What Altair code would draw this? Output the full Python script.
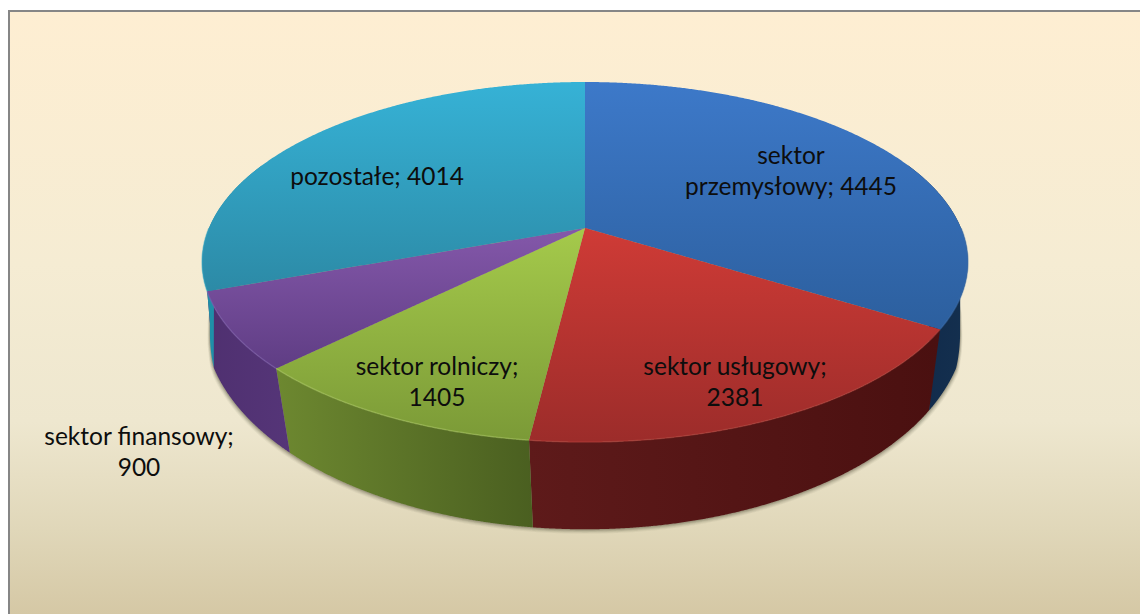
import numpy as np
import pandas as pd
import altair as alt

categories = ["sektor przemysłowy", "sektor usługowy", "sektor rolniczy", "sektor finansowy", "pozostałe"]
values = [4445, 2381, 1405, 900, 4014]
top_light = ["#3d79c9", "#cf3b36", "#a5ca4b", "#8458aa", "#36b2d6"]
top_dark = ["#2c5f9e", "#9c2c2a", "#7b9a37", "#5f3d84", "#2c8aa6"]
wall_left = ["#10294a", "#5e1a1a", "#6d8830", "#4f3070", "#1f8fa8"]
wall_right = ["#14304f", "#4a1010", "#4a5f20", "#553578", "#1f8fa8"]
rim = ["#3d6fae", "#b8413c", "#a9c95f", "#7f60b4", "#35a5c4"]
label_texts = ["sektor\nprzemysłowy; 4445", "sektor usługowy;\n2381", "sektor rolniczy;\n1405",
               "sektor finansowy;\n900", "pozostałe; 4014"]
label_x = [791, 735, 437, 139, 377]
label_y = [157, 368, 368, 438, 178]

W, H = 1140, 614
CX, CY = 585.0, 228.0


def top(th):
    u, v = np.sin(th), np.cos(th)
    d = 1 + 0.189 * v
    return CX + 376 * u / d, CY - 173.6 * v / d


def bottom(th):
    u, v = np.sin(th), np.cos(th)
    d = 1 + 0.125 * v
    pinch = 1 - 0.016 * np.clip((np.abs(u) - 0.94) / 0.05, 0, 1)
    return CX + 378 * u / d * pinch, 295 - 205 * v / d


def spans(px, py):
    """Vertical extent of a closed outline at a sweep of x positions."""
    lo, hi = px.min() + 1e-6, px.max() - 1e-6
    xs = np.unique(np.concatenate([np.linspace(lo, hi, 260), np.clip(px[::12], lo, hi)]))
    x0, y0 = px, py
    x1, y1 = np.roll(px, -1), np.roll(py, -1)
    rows = []
    for x in xs:
        hit = ((x0 <= x) & (x1 > x)) | ((x1 <= x) & (x0 > x))
        if not hit.any():
            continue
        ys = y0[hit] + (x - x0[hit]) / (x1[hit] - x0[hit]) * (y1[hit] - y0[hit])
        rows.append((x, ys.min(), ys.max()))
    return pd.DataFrame(rows, columns=["px", "py", "py2"])


X = alt.X("px:Q", scale=alt.Scale(domain=[8, W], nice=False, zero=False), axis=None)
Y = alt.Y("py:Q", scale=alt.Scale(domain=[H, 8], nice=False, zero=False), axis=None)


def grad(c0, c1, vertical=True):
    return alt.LinearGradient(
        gradient="linear",
        stops=[alt.GradientStop(color=c0, offset=0), alt.GradientStop(color=c1, offset=1)],
        x1=0, y1=0, x2=0 if vertical else 1, y2=1 if vertical else 0,
    )


def area(df, fill, opacity=1.0):
    return alt.Chart(df).mark_area(fill=fill, opacity=opacity, line=False, stroke=None).encode(
        x=X, y=Y, y2="py2:Q")


layers = []

# page background panel and frame
panel = pd.DataFrame({"px": [10], "px2": [W], "py": [12], "py2": [H]})
layers.append(
    alt.Chart(panel).mark_rect(
        fill=alt.LinearGradient(
            gradient="linear",
            stops=[alt.GradientStop(color=c, offset=o) for c, o in
                   [("#feeed2", 0), ("#f5ecd3", 0.42), ("#eee7cf", 0.68), ("#e0d7b9", 0.86), ("#d5c8a5", 1)]],
            x1=0, y1=0, x2=0, y2=1)
    ).encode(x=X, x2="px2:Q", y=Y, y2="py2:Q")
)
layers.append(alt.Chart(pd.DataFrame({"px": [9], "py": [11], "py2": [H]})).mark_rule(
    color="#868686", strokeWidth=2).encode(x=X, y=Y, y2="py2:Q"))
layers.append(alt.Chart(pd.DataFrame({"px": [8], "px2": [W], "py": [11]})).mark_rule(
    color="#868686", strokeWidth=2).encode(x=X, x2="px2:Q", y=Y))

ring = np.linspace(np.pi / 2 - 0.4, 3 * np.pi / 2 + 0.4, 500)

# soft shadow under the rim
bx, by = bottom(ring)
for off, op in [(5, 0.05), (4, 0.07), (3, 0.09), (2, 0.12), (1, 0.15)]:
    sx = CX + (bx - CX) * (1 + off * 0.5 / 380)
    sy = by + off * 0.9
    layers.append(area(spans(sx, sy), "#3a3424", op))

total = sum(values)
edges = np.concatenate([[0], np.cumsum(values) / total]) * 2 * np.pi

# side walls
for i in range(len(values)):
    a0, a1 = edges[i], edges[i + 1]
    a0 = max(a0, np.pi / 2 - 0.4)
    a1 = min(a1, 3 * np.pi / 2 + 0.4)
    if a1 <= a0:
        continue
    th = np.linspace(a0, a1, 300)
    tx, ty = top(th)
    bx, by = bottom(th)
    layers.append(area(spans(np.r_[tx, bx[::-1]], np.r_[ty, by[::-1]]),
                       grad(wall_left[i], wall_right[i], vertical=False)))

# top faces
for i in range(len(values)):
    th = np.linspace(edges[i], edges[i + 1], 400)
    tx, ty = top(th)
    px = np.r_[CX, tx]
    py = np.r_[CY, ty]
    layers.append(area(spans(px, py), grad(top_light[i], top_dark[i])))

# light rim along the visible front edge
for i in range(len(values)):
    a0, a1 = max(edges[i], np.pi / 2), min(edges[i + 1], 3 * np.pi / 2)
    if a1 <= a0:
        continue
    th = np.linspace(a0, a1, 200)
    tx, ty = top(th)
    line_df = pd.DataFrame({"px": tx, "py": ty, "k": np.arange(len(th))})
    layers.append(alt.Chart(line_df).mark_line(color=rim[i], strokeWidth=1.5, opacity=0.5).encode(
        x=X, y=Y, order="k:Q"))

# labels
labels = pd.DataFrame({"px": label_x, "py": label_y, "t": label_texts})
layers.append(alt.Chart(labels).mark_text(
    font="Lato", fontSize=24.5, color="#0d0d0d", lineBreak="\n", lineHeight=31,
    align="center", baseline="middle").encode(x=X, y=Y, text="t:N"))

chart = alt.layer(*layers).properties(
    width=W - 8, height=H - 8, padding=0,
    autosize=alt.AutoSizeParams(type="none", contains="padding"),
).configure_view(stroke=None)
chart.save("out.html", embed_options={"renderer": "svg", "actions": False})
